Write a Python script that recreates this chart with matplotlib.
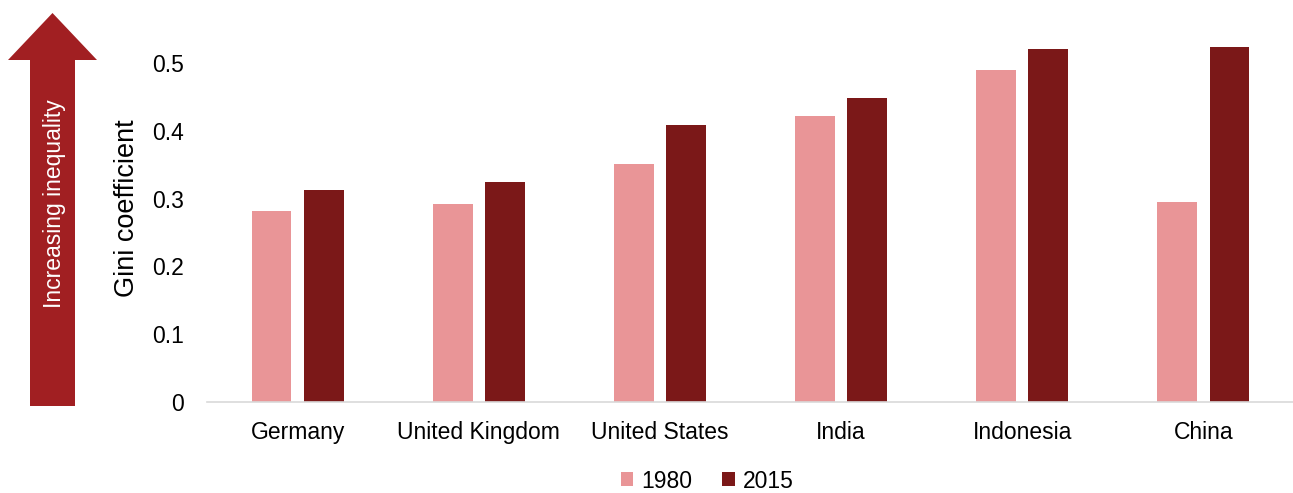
import matplotlib
matplotlib.use("Agg")
import matplotlib.pyplot as plt
import numpy as np
from matplotlib.patches import Polygon

plt.rcParams['font.family'] = ['Liberation Sans', 'DejaVu Sans']

categories = ["Germany", "United Kingdom", "United States", "India", "Indonesia", "China"]
series_names = ["1980", "2015"]
gini_1980 = [0.281, 0.292, 0.351, 0.422, 0.490, 0.295]
gini_2015 = [0.312, 0.324, 0.409, 0.448, 0.520, 0.523]
y_ticks = [0, 0.1, 0.2, 0.3, 0.4, 0.5]
y_tick_labels = ["0", "0.1", "0.2", "0.3", "0.4", "0.5"]

c1980 = "#E99597"
c2015 = "#7B1818"
arrow_color = "#A11F22"

W, H = 1293, 493
fig = plt.figure(figsize=(W / 100, H / 100), dpi=100)
ax = fig.add_axes([207 / W, 1 - 402 / H, (1294 - 207) / W, (402 - 29) / H])

x = np.arange(len(categories))
bw = 0.22
off = 0.144
ax.bar(x - off, gini_1980, bw, color=c1980, label=series_names[0])
ax.bar(x + off, gini_2015, bw, color=c2015, label=series_names[1])

ax.set_xlim(-0.5, len(categories) - 0.5)
ax.set_ylim(0, 0.55)
ax.set_yticks(y_ticks)
ax.set_yticklabels(y_tick_labels)
ax.set_xticks(x)
ax.set_xticklabels(categories)
ax.tick_params(axis='y', length=0, labelsize=16.5, pad=16.5, colors='#000000')
ax.tick_params(axis='x', length=0, labelsize=16.5, pad=14, colors='#000000')
for s in ['top', 'right', 'left']:
    ax.spines[s].set_visible(False)
ax.spines['bottom'].set_color('#D9D9D9')
ax.spines['bottom'].set_linewidth(1.2)
ax.set_ylabel("Gini coefficient", fontsize=19.5)
ax.yaxis.set_label_coords(-0.062, 0.52)

leg = fig.legend(loc='center', bbox_to_anchor=(707 / W, 1 - 481 / H), ncol=2, frameon=False,
                 fontsize=16.5, handlelength=0.55, handleheight=0.55, handletextpad=0.35,
                 columnspacing=1.3)

# Arrow in pixel coordinates converted to figure fraction
def fx(px):
    return px / W

def fy(py):
    return 1 - py / H

pts = [(30, 406), (75, 406), (75, 60), (97, 60), (52.5, 13), (8, 60), (30, 60)]
arrow = Polygon([(fx(a), fy(b)) for a, b in pts], closed=True, transform=fig.transFigure,
                facecolor=arrow_color, edgecolor='none')
fig.patches.append(arrow)
fig.text(fx(54), fy(204), "Increasing inequality", rotation=90, color='white',
         fontsize=16.5, ha='center', va='center')

fig.savefig("out.png", dpi=100)
